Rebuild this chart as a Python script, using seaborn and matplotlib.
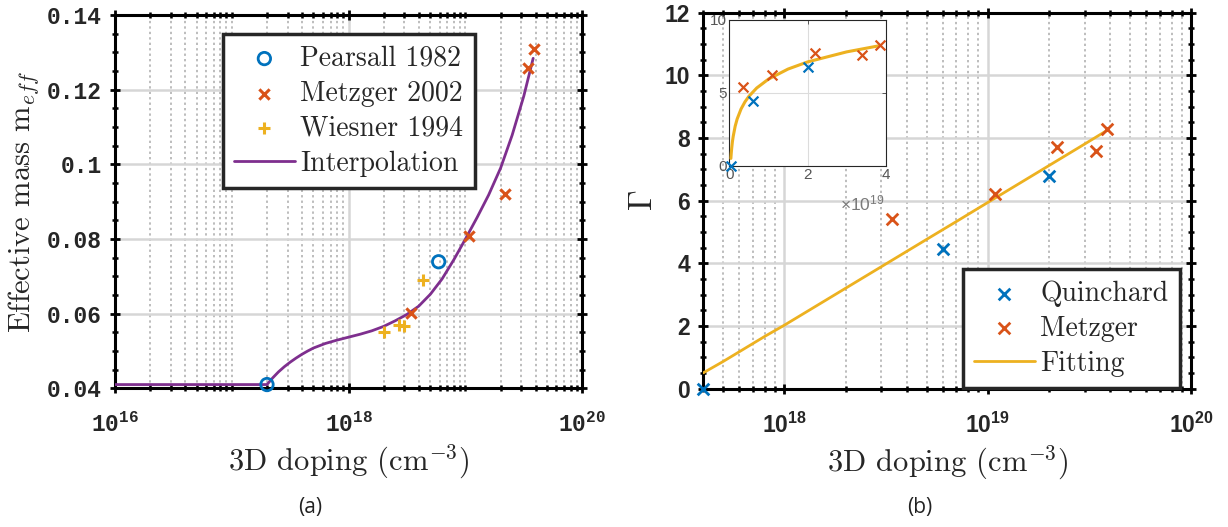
import numpy as np
import pandas as pd
import matplotlib
matplotlib.use("Agg")
import matplotlib.pyplot as plt
import matplotlib.ticker as mticker
import seaborn as sns

# ---------------- data ----------------
# (a) effective mass versus 3D doping
pearsall_doping = [2.0e17, 5.9e18]
pearsall_meff = [0.0410, 0.0739]

metzger_doping = [3.4e18, 1.08e19, 2.18e19, 3.4e19, 3.85e19]
metzger_meff = [0.0603, 0.0808, 0.0920, 0.1257, 0.1308]

wiesner_doping = [2.0e18, 2.7e18, 2.95e18, 4.3e18]
wiesner_meff = [0.0552, 0.0570, 0.0567, 0.0690]

interp_doping = [1.0e16, 2.0e17, 2.24e17, 2.51e17, 2.82e17, 3.16e17, 3.55e17,
                 3.98e17, 4.47e17, 5.01e17, 6.31e17, 7.94e17, 1.0e18, 1.26e18,
                 1.58e18, 2.0e18, 2.51e18, 3.16e18, 3.98e18, 5.01e18, 6.31e18,
                 7.94e18, 1.0e19, 1.26e19, 1.58e19, 2.0e19, 2.51e19, 3.16e19,
                 3.8e19]
interp_meff = [0.0410, 0.0410, 0.0428, 0.0444, 0.0458, 0.0470, 0.0481,
               0.0491, 0.0500, 0.0508, 0.0520, 0.0529, 0.0537, 0.0545,
               0.0554, 0.0566, 0.0581, 0.0598, 0.0620, 0.0652, 0.0693,
               0.0744, 0.0800, 0.0858, 0.0918, 0.0990, 0.1078, 0.1183,
               0.1284]

# (b) Gamma versus 3D doping
quinchard_doping = [4.0e17, 6.0e18, 2.0e19]
quinchard_gamma = [0.0, 4.45, 6.77]

metzger_gamma = [5.42, 6.22, 7.72, 7.58, 8.29]

fit_doping = [4.0e17, 5.0e17, 6.0e17, 8.0e17, 1.0e18, 1.5e18, 2.0e18, 3.0e18,
              4.0e18, 5.0e18, 7.0e18, 1.0e19, 1.5e19, 2.0e19, 3.0e19, 3.85e19]
fit_gamma = [0.50, 0.86, 1.17, 1.66, 2.02, 2.71, 3.20, 3.89,
             4.38, 4.76, 5.33, 5.94, 6.63, 7.12, 7.81, 8.24]

left_yticks = [0.04, 0.06, 0.08, 0.10, 0.12, 0.14]
left_xticks = [1e16, 1e18, 1e20]
right_yticks = [0, 2, 4, 6, 8, 10, 12]
right_xticks = [1e18, 1e19, 1e20]
inset_xticks = [0, 2, 4]
inset_yticks = [0, 5, 10]

# ---------------- style ----------------
sns.set_theme(style="white")
plt.rcParams["mathtext.fontset"] = "cm"
plt.rcParams["axes.unicode_minus"] = False
plt.rcParams["font.family"] = ["DejaVu Sans"]

BLUE = "#0072BD"
ORANGE = "#D95319"
YELLOW = "#EDB120"
PURPLE = "#7E2F8E"
SERIF = "cmr10"

fig = plt.figure(figsize=(12.28, 5.27), dpi=100)
fig.patch.set_facecolor("white")

ax1 = fig.add_axes([0.09365, 0.2632, 0.3805, 0.7083])
ax2 = fig.add_axes([0.5727, 0.2628, 0.3974, 0.7131])


def style_axes(ax):
    ax.set_facecolor("white")
    for sp in ax.spines.values():
        sp.set_visible(True)
        sp.set_color("black")
        sp.set_linewidth(2.2)
    ax.tick_params(which="both", direction="inout", top=True, right=True,
                   bottom=True, left=True, color="black")
    ax.tick_params(which="major", length=7, width=2)
    ax.tick_params(which="minor", length=5, width=1.8)
    ax.grid(True, which="major", color="#d6d6d6", lw=1.8, ls="-")
    ax.set_axisbelow(True)


def pow_fmt(v, pos):
    return r"$\mathregular{10^{%d}}$" % int(round(np.log10(v)))


def legend_box(ax, anchor):
    leg = ax.legend(loc="upper left", bbox_to_anchor=anchor,
                    borderaxespad=0, prop=dict(family=SERIF, size=20),
                    handlelength=2.2, handletextpad=0.2, borderpad=0.4,
                    labelspacing=0.31, scatterpoints=1, fancybox=False,
                    framealpha=1, edgecolor="#262626")
    leg.get_frame().set_linewidth(2.5)
    return leg


# ---------------- panel (a) ----------------
style_axes(ax1)
ax1.set_xscale("log")
ax1.set_xlim(1e16, 1e20)
ax1.set_ylim(0.04, 0.14)
ax1.xaxis.set_major_locator(mticker.FixedLocator(left_xticks))
ax1.xaxis.set_minor_locator(mticker.LogLocator(base=10, subs=np.arange(1, 10), numticks=50))
ax1.xaxis.set_major_formatter(mticker.FuncFormatter(pow_fmt))
ax1.xaxis.set_minor_formatter(mticker.NullFormatter())
ax1.yaxis.set_major_locator(mticker.FixedLocator(left_yticks))
ax1.yaxis.set_minor_locator(mticker.MultipleLocator(0.005))
ax1.yaxis.set_major_formatter(mticker.FuncFormatter(lambda v, p: "%g" % round(v, 3)))
ax1.grid(True, which="minor", axis="x", color="#bdbdbd", lw=1.4, ls=(0, (1.2, 1.6)))

mono = dict(family="Liberation Mono", weight="bold", size=16.5)
for lab in ax1.get_yticklabels() + ax1.get_xticklabels():
    lab.set(**mono)
ax1.tick_params(axis="y", which="major", pad=6)
ax1.tick_params(axis="x", which="major", pad=14)

sns.scatterplot(x=pearsall_doping, y=pearsall_meff, ax=ax1, marker="o", s=80,
                facecolor="none", edgecolor=BLUE, linewidth=2.0,
                label="Pearsall 1982", zorder=4, clip_on=False)
sns.scatterplot(x=metzger_doping, y=metzger_meff, ax=ax1, marker="x", s=55,
                color=ORANGE, linewidth=2.2, label="Metzger 2002", zorder=4)
sns.scatterplot(x=wiesner_doping, y=wiesner_meff, ax=ax1, marker="+", s=85,
                color=YELLOW, linewidth=2.2, label="Wiesner 1994", zorder=4)
sns.lineplot(x=interp_doping, y=interp_meff, ax=ax1, color=PURPLE, lw=2.0,
             sort=False, estimator=None, label="Interpolation", zorder=3)
legend_box(ax1, (0.2305, 0.948))

ax1.set_xlabel(r"3D doping (cm$^{-3}$)", family=SERIF, size=22, labelpad=4)
ax1.set_ylabel(r"Effective mass m$_{eff}$", family=SERIF, size=22, labelpad=4)

# ---------------- panel (b) ----------------
style_axes(ax2)
ax2.set_xscale("log")
ax2.set_xlim(4e17, 1e20)
ax2.set_ylim(0, 12)
ax2.xaxis.set_major_locator(mticker.FixedLocator(right_xticks))
ax2.xaxis.set_minor_locator(mticker.LogLocator(base=10, subs=np.arange(1, 10), numticks=50))
ax2.xaxis.set_major_formatter(mticker.FuncFormatter(pow_fmt))
ax2.xaxis.set_minor_formatter(mticker.NullFormatter())
ax2.yaxis.set_major_locator(mticker.FixedLocator(right_yticks))
ax2.yaxis.set_minor_locator(mticker.MultipleLocator(0.5))
ax2.grid(True, which="minor", axis="x", color="#bdbdbd", lw=1.4, ls=(0, (1.2, 1.6)))

sans_b = dict(family="Liberation Sans", weight="bold", size=16.5)
for lab in ax2.get_yticklabels() + ax2.get_xticklabels():
    lab.set(**sans_b)
ax2.tick_params(axis="y", which="major", pad=6)
ax2.tick_params(axis="x", which="major", pad=14)

sns.scatterplot(x=quinchard_doping, y=quinchard_gamma, ax=ax2, marker="x", s=70,
                color=BLUE, linewidth=2.0, label="Quinchard", zorder=4, clip_on=False)
sns.scatterplot(x=metzger_doping, y=metzger_gamma, ax=ax2, marker="x", s=70,
                color=ORANGE, linewidth=2.0, label="Metzger", zorder=4)
sns.lineplot(x=fit_doping, y=fit_gamma, ax=ax2, color=YELLOW, lw=2.0,
             sort=False, estimator=None, label="Fitting", zorder=3)
legend_box(ax2, (0.5316, 0.3175))

ax2.set_xlabel(r"3D doping (cm$^{-3}$)", family=SERIF, size=22, labelpad=4)
ax2.set_ylabel(r"$\Gamma$", size=24, labelpad=4)

# ---------------- inset (linear scale) ----------------
axi = fig.add_axes([0.5939, 0.6856, 0.1274, 0.2765])
axi.set_facecolor("white")
for sp in axi.spines.values():
    sp.set_visible(True)
    sp.set_color("#262626")
    sp.set_linewidth(0.8)
axi.set_xlim(0, 4)
axi.set_ylim(0, 10)
axi.set_xticks(inset_xticks)
axi.set_yticks(inset_yticks)
axi.grid(True, color="#dcdcdc", lw=0.8)
axi.set_axisbelow(True)
axi.tick_params(direction="in", length=3, width=0.6, color="#404040",
                labelsize=11, labelcolor="#555555", pad=2, top=True, right=True)
for lab in axi.get_xticklabels() + axi.get_yticklabels():
    lab.set_family("Liberation Sans")

scale = 1e19
sns.lineplot(x=np.array(fit_doping) / scale, y=fit_gamma, ax=axi, color=YELLOW,
             lw=2.2, sort=False, estimator=None, legend=False, zorder=3)
sns.scatterplot(x=np.array(quinchard_doping) / scale, y=quinchard_gamma, ax=axi,
                marker="x", s=50, color=BLUE, linewidth=1.6, legend=False,
                zorder=4, clip_on=False)
sns.scatterplot(x=np.array(metzger_doping) / scale, y=metzger_gamma, ax=axi,
                marker="x", s=50, color=ORANGE, linewidth=1.6, legend=False,
                zorder=4, clip_on=False)
axi.set_xlabel("")
axi.set_ylabel("")
axi.text(0.99, -0.26, r"$\mathregular{\times10^{19}}$", transform=axi.transAxes,
         ha="right", va="center", color="#7a7a7a", size=12.5,
         family="Liberation Sans")

# ---------------- captions ----------------
fig.text(310 / 1228, 1 - 507 / 527, "(a)", ha="center", va="center",
         family="Open Sans", size=15, color="#222222")
fig.text(920 / 1228, 1 - 507 / 527, "(b)", ha="center", va="center",
         family="Open Sans", size=15, color="#222222")

fig.savefig("out.png", dpi=100, facecolor="white")
